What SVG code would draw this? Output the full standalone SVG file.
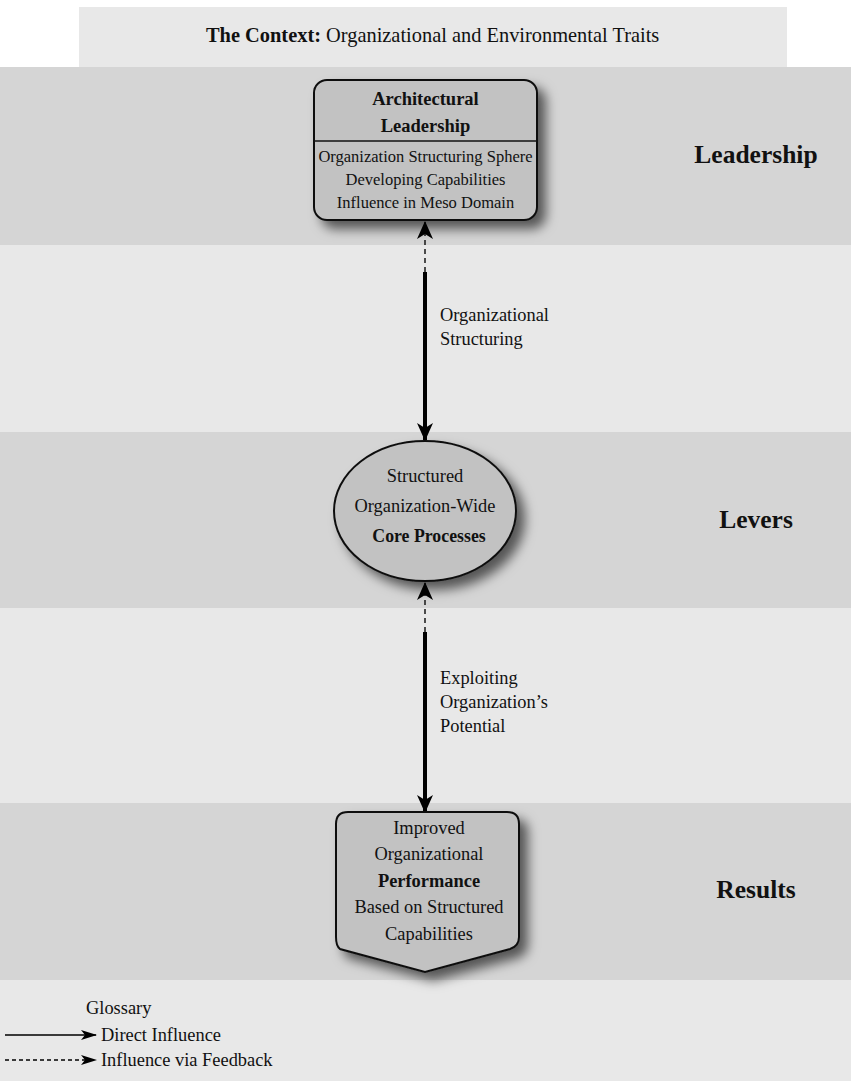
<svg xmlns="http://www.w3.org/2000/svg" width="851" height="1081" viewBox="0 0 851 1081">
<defs>
<style>
text{font-family:"Liberation Serif","Times New Roman",serif;fill:#111;}
.t{font-size:18.4px;}
.s{font-size:16.5px;}
.b{font-weight:bold;}
.c{text-anchor:middle;}
.band-d{fill:#d5d5d5;}
.band-l{fill:#e8e8e8;}
.node{fill:#c2c2c2;stroke:#111;stroke-width:2;}
.lab{font-size:25.5px;font-weight:bold;text-anchor:middle;}
.solid{stroke:#000;stroke-width:4;fill:none;}
.dash{stroke:#222;stroke-width:1.6;stroke-dasharray:5,4;fill:none;}
.thin{stroke:#000;stroke-width:1.5;fill:none;}
.thind{stroke:#000;stroke-width:1.3;stroke-dasharray:4,3;fill:none;}
</style>
<filter id="sh" x="-20%" y="-20%" width="150%" height="150%">
<feDropShadow dx="8" dy="8" stdDeviation="6" flood-color="#000" flood-opacity="0.6"/>
</filter>
<marker id="big" markerWidth="18" markerHeight="22" refX="17" refY="8" orient="auto" markerUnits="userSpaceOnUse" viewBox="0 0 18 16">
<path d="M0,0 L18,8 L0,16 L5,8 Z" fill="#000"/>
</marker>
<marker id="small" markerWidth="16" markerHeight="12" refX="15" refY="5" orient="auto" markerUnits="userSpaceOnUse" viewBox="0 0 16 10">
<path d="M0,0 L16,5 L0,10 L4,5 Z" fill="#000"/>
</marker>
</defs>

<rect x="0" y="0" width="851" height="1081" fill="#ffffff"/>
<g id="bands">
<rect class="band-d" x="0" y="67" width="851" height="178"/>
<rect class="band-l" x="0" y="245" width="851" height="187"/>
<rect class="band-d" x="0" y="432" width="851" height="176"/>
<rect class="band-l" x="0" y="608" width="851" height="195"/>
<rect class="band-d" x="0" y="803" width="851" height="177"/>
<rect class="band-l" x="0" y="980" width="851" height="101"/>
</g>

<g id="context">
<rect class="band-l" x="79" y="7" width="708" height="60"/>
<text x="206" y="42" style="font-size:20.4px"><tspan class="b">The Context:</tspan> Organizational and Environmental Traits</text>
</g>

<g id="row-labels">
<text class="lab" x="756" y="163">Leadership</text>
<text class="lab" x="756" y="528">Levers</text>
<text class="lab" x="756" y="898">Results</text>
</g>

<g id="connectors">
<line class="dash" x1="425" y1="272" x2="425" y2="222" marker-end="url(#big)"/>
<line class="solid" x1="425" y1="272" x2="425" y2="440" marker-end="url(#big)"/>
<text class="t" x="440" y="321">Organizational</text>
<text class="t" x="440" y="345">Structuring</text>
<line class="dash" x1="425" y1="632" x2="425" y2="583" marker-end="url(#big)"/>
<line class="solid" x1="425" y1="632" x2="425" y2="812" marker-end="url(#big)"/>
<text class="t" x="440" y="684">Exploiting</text>
<text class="t" x="440" y="708">Organization’s</text>
<text class="t" x="440" y="732">Potential</text>
</g>

<g id="node-leadership">
<rect class="node" x="314" y="80" width="223" height="140" rx="13" filter="url(#sh)"/>
<line x1="314" y1="141" x2="537" y2="141" stroke="#111" stroke-width="1.5"/>
<text class="b c" x="425.5" y="105" style="font-size:18.5px">Architectural</text>
<text class="b c" x="425.5" y="132" style="font-size:18.5px">Leadership</text>
<text class="s c" x="425.5" y="162">Organization Structuring Sphere</text>
<text class="s c" x="425.5" y="185">Developing Capabilities</text>
<text class="s c" x="425.5" y="208">Influence in Meso Domain</text>
</g>

<g id="node-levers">
<ellipse class="node" cx="425" cy="511" rx="91" ry="70" filter="url(#sh)"/>
<text class="t c" x="425" y="482">Structured</text>
<text class="t c" x="425" y="512">Organization-Wide</text>
<text class="t b c" x="429" y="542" style="font-size:17.8px">Core Processes</text>
</g>

<g id="node-results">
<path class="node" filter="url(#sh)" d="M348,812 L507,812 Q519,812 519,824 L519,937 Q519,946 510,949 L425,972 L340,949 Q336,946 336,937 L336,824 Q336,812 348,812 Z"/>
<text class="t c" x="429" y="834">Improved</text>
<text class="t c" x="429" y="860">Organizational</text>
<text class="t b c" x="429" y="887">Performance</text>
<text class="t c" x="429" y="913">Based on Structured</text>
<text class="t c" x="429" y="940">Capabilities</text>
</g>

<g id="glossary">
<text class="t" x="86" y="1014">Glossary</text>
<line class="thin" x1="5" y1="1035" x2="96" y2="1035" marker-end="url(#small)"/>
<text class="t" x="101" y="1041">Direct Influence</text>
<line class="thind" x1="5" y1="1060" x2="96" y2="1060" marker-end="url(#small)"/>
<text class="t" x="101" y="1066">Influence via Feedback</text>
</g>
</svg>
